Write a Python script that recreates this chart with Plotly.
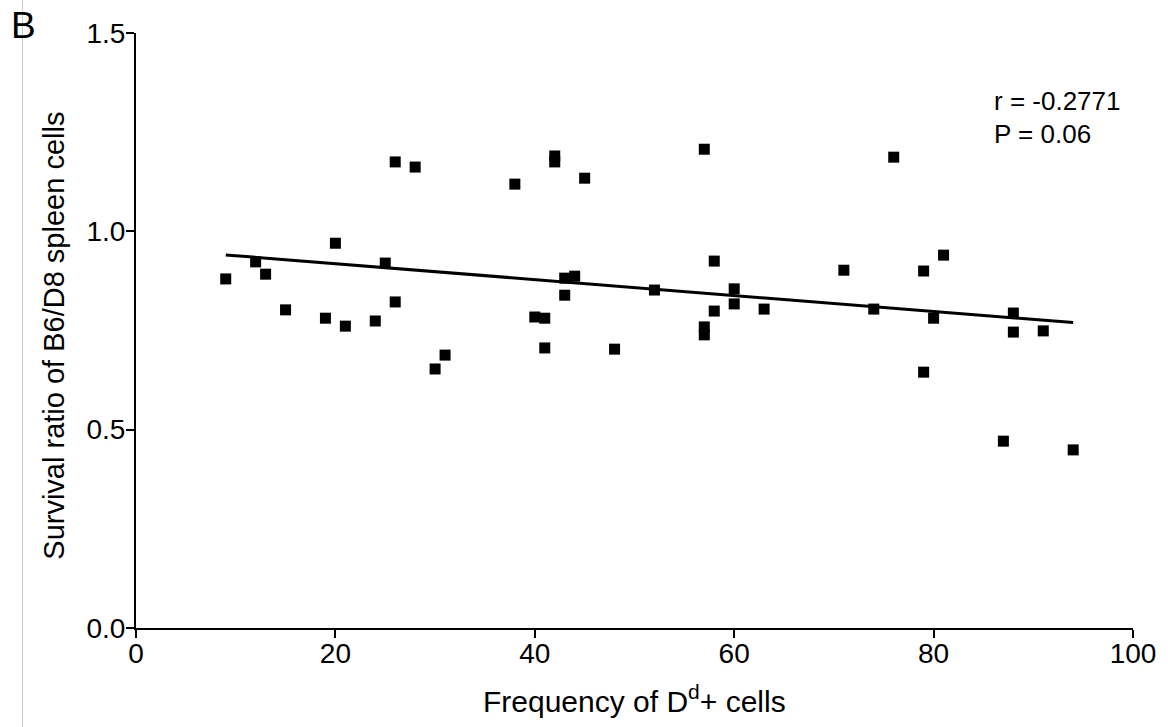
import numpy as np
import plotly.graph_objects as go

freq = [9, 12, 13, 15, 19, 20, 21, 24, 25, 26, 26, 28, 30, 31, 38, 40, 41, 41, 42, 42,
        43, 43, 44, 45, 48, 52, 57, 57, 57, 58, 58, 60, 60, 63, 71, 74, 76, 79, 79, 80,
        81, 87, 88, 88, 91, 94]
ratio = [0.880, 0.923, 0.892, 0.802, 0.781, 0.970, 0.761, 0.774, 0.920, 0.822,
         1.175, 1.162, 0.653, 0.688, 1.119, 0.784, 0.781, 0.706, 1.190, 1.175,
         0.882, 0.839, 0.887, 1.134, 0.703, 0.852, 1.207, 0.759, 0.739, 0.925,
         0.799, 0.855, 0.817, 0.804, 0.902, 0.804, 1.187, 0.900, 0.645, 0.781,
         0.940, 0.471, 0.794, 0.746, 0.749, 0.449]
x_ticks = [0, 20, 40, 60, 80, 100]
y_ticks = [0.0, 0.5, 1.0, 1.5]
stats_lines = ["r = -0.2771", "P = 0.06"]
x_title = "Frequency of D<sup>d</sup>+ cells"
y_title = "Survival ratio of B6/D8 spleen cells"
panel_label = "B"

x = np.array(freq, dtype=float)
y = np.array(ratio, dtype=float)
slope, intercept = np.polyfit(x, y, 1)
fit_x = [x.min(), x.max()]
fit_y = [slope * v + intercept for v in fit_x]

fig = go.Figure()
fig.add_trace(go.Scatter(x=fit_x, y=fit_y, mode="lines",
                         line=dict(color="black", width=3), hoverinfo="skip"))
fig.add_trace(go.Scatter(x=freq, y=ratio, mode="markers",
                         marker=dict(symbol="square", size=11, color="black",
                                     line=dict(width=0))))

font = "Liberation Sans, Arial, sans-serif"
axis_common = dict(showline=True, linecolor="black", linewidth=2,
                   ticks="outside", ticklen=8, tickwidth=2, tickcolor="black",
                   showgrid=False, zeroline=False,
                   tickfont=dict(size=28, family=font, color="black"))
fig.update_layout(
    width=1168, height=727,
    margin=dict(l=136, r=30, t=33, b=99),
    plot_bgcolor="white", paper_bgcolor="white",
    showlegend=False,
    font=dict(family=font, color="black", size=16),
    xaxis=dict(range=[0, 100], tickvals=x_ticks, ticklabelstandoff=-9, **axis_common),
    yaxis=dict(range=[0, 1.5], tickvals=y_ticks, tickformat=".1f",
               ticklabelstandoff=-5, **axis_common),
)
fig.add_annotation(x=0.5, y=-0.12, xref="paper", yref="paper",
                   text=x_title, showarrow=False, xanchor="center", yanchor="middle",
                   font=dict(size=30, family=font, color="black"))
fig.add_annotation(x=-0.0818, y=0.492, xref="paper", yref="paper",
                   text=y_title, showarrow=False, textangle=-90,
                   xanchor="center", yanchor="middle",
                   font=dict(size=29, family=font, color="black"))
for i, line in enumerate(stats_lines):
    fig.add_annotation(x=0.859, y=(628 - 101 - 33 * i) / 595, xref="paper", yref="paper",
                       text=line, showarrow=False, align="left",
                       xanchor="left", yanchor="middle",
                       font=dict(size=26, family=font, color="black"))
fig.add_annotation(x=-0.1132, y=1.013, xref="paper", yref="paper",
                   text=panel_label, showarrow=False, xanchor="center", yanchor="middle",
                   font=dict(size=37, family=font, color="black"))
fig.add_shape(type="line", xref="paper", yref="paper",
              x0=-0.1138, x1=-0.1138, y0=-0.17, y1=1.06,
              line=dict(color="#cccccc", width=1))
fig.write_html("out.html")
